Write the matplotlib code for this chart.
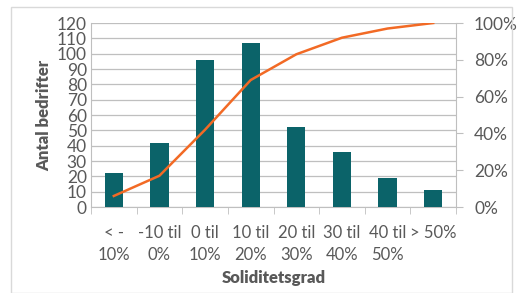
import numpy as np
import matplotlib
matplotlib.use("Agg")
import matplotlib.pyplot as plt
from matplotlib.patches import Rectangle

plt.rcParams['font.family'] = ['Lato', 'DejaVu Sans']

# data
categories = ["< -\n10%", "-10 til\n0%", "0 til\n10%", "10 til\n20%",
              "20 til\n30%", "30 til\n40%", "40 til\n50%", "> 50%"]
antal = [22, 42, 96, 107, 52, 36, 19, 11]
kumulativ = [6, 17, 42, 69, 83, 92, 97, 100]   # percent

grey_text = "#595959"
grid_col = "#BFBFBF"

fig = plt.figure(figsize=(5.2, 2.93), dpi=100)
ax = fig.add_axes([91/520, 1 - 207/293, (456-91)/520, (207-23)/293])

x = np.arange(len(categories))
ax.bar(x, antal, width=0.4, color="#0B6369", zorder=3)
ax.set_xlim(-0.5, len(categories) - 0.5)
ax.set_ylim(0, 120)
ax.set_yticks(np.arange(0, 121, 10))
ax.yaxis.grid(True, color=grid_col, linewidth=0.9, zorder=0)
ax.set_xticks(x)
ax.set_xticklabels(categories, fontsize=12, color=grey_text, linespacing=1.45)
ax.tick_params(axis="x", length=0, pad=13)
ax.set_xticks(np.arange(-0.5, len(categories)), minor=True)
ax.tick_params(axis="x", which="minor", length=5, color=grid_col)
ax.tick_params(axis="y", length=0, labelsize=12.5, labelcolor=grey_text, pad=3)
for s in ["top", "right"]:
    ax.spines[s].set_visible(False)
ax.spines["left"].set_color(grid_col)
ax.spines["bottom"].set_color(grid_col)
ax.set_ylabel("Antal bedrifter", fontsize=12, fontweight="heavy",
              color=grey_text, labelpad=3)
ax.set_xlabel("Soliditetsgrad", fontsize=12, fontweight="heavy",
              color=grey_text, labelpad=5)

ax2 = ax.twinx()
ax2.plot(x, kumulativ, color="#F26A25", linewidth=1.8, zorder=4)
ax2.set_ylim(0, 100)
ax2.set_yticks(np.arange(0, 101, 20))
ax2.set_yticklabels([f"{v}%" for v in range(0, 101, 20)])
ax2.tick_params(axis="y", length=5, color=grid_col, labelsize=12.5,
                labelcolor=grey_text, pad=8)
for s in ["top", "left", "bottom"]:
    ax2.spines[s].set_visible(False)
ax2.spines["right"].set_color(grid_col)

# light frame around the chart
fig.patches.append(Rectangle((11/520, 0.0), 501/520, 1 - 7/293,
                             transform=fig.transFigure, fill=False,
                             edgecolor="#D9D9D9", linewidth=1))

fig.savefig("out.png", dpi=100)
